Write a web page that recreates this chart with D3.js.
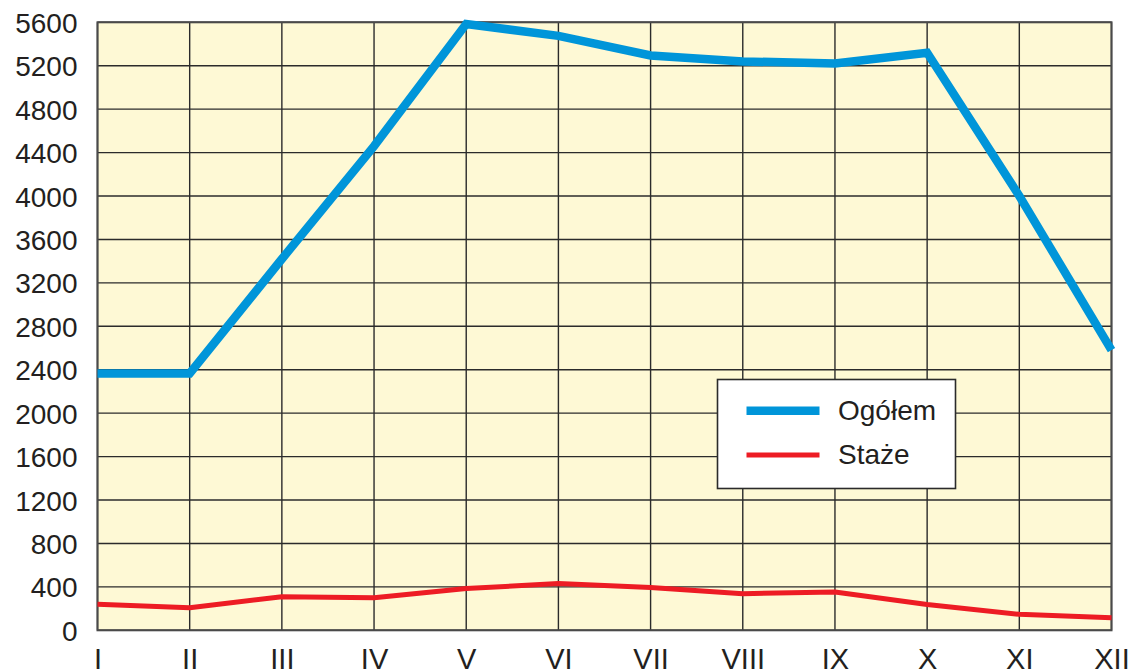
<!DOCTYPE html>
<html>
<head>
<meta charset="utf-8">
<script src="https://cdn.jsdelivr.net/npm/d3@7"></script>
<style>
  body { margin: 0; background: #fff; }
  svg text { font-family: "Liberation Sans", Arial, sans-serif; fill: #231f20; }
</style>
</head>
<body>
<svg width="1136" height="671"></svg>
<script>
// months on the x axis
var months = ["I", "II", "III", "IV", "V", "VI", "VII", "VIII", "IX", "X", "XI", "XII"];
// series
var ogolem = [2365, 2365, 3420, 4460, 5585, 5475, 5295, 5240, 5220, 5320, 4000, 2580];
var staze = [240, 208, 310, 300, 385, 430, 395, 337, 353, 238, 147, 116];
var yTicks = [0, 400, 800, 1200, 1600, 2000, 2400, 2800, 3200, 3600, 4000, 4400, 4800, 5200, 5600];
var seriesNames = ["Ogółem", "Staże"];
var seriesColors = ["#0095d9", "#ed1c24"];

var svg = d3.select("svg");
// plot area edges (note: "top" is a reserved window prop, so use other names)
var pLeft = 97.5, pRight = 1111.5, pTop = 22.3, pBottom = 630.3;

var x = d3.scalePoint().domain(months).range([pLeft, pRight]);
var y = d3.scaleLinear().domain([0, 5600]).range([pBottom, pTop]);

// background of plot
svg.append("rect")
    .attr("x", pLeft).attr("y", pTop)
    .attr("width", pRight - pLeft).attr("height", pBottom - pTop)
    .attr("fill", "#fef9d5");

// grid
var grid = svg.append("g").attr("stroke", "#2b2b2b").attr("stroke-width", 1.4);
grid.selectAll(".h").data(yTicks).enter().append("line")
    .attr("class", "h")
    .attr("x1", pLeft).attr("x2", pRight)
    .attr("y1", function (d) { return y(d); })
    .attr("y2", function (d) { return y(d); });
grid.selectAll(".v").data(months).enter().append("line")
    .attr("class", "v")
    .attr("y1", pTop).attr("y2", pBottom)
    .attr("x1", function (d) { return x(d); })
    .attr("x2", function (d) { return x(d); });

// border
svg.append("rect")
    .attr("x", pLeft).attr("y", pTop)
    .attr("width", pRight - pLeft).attr("height", pBottom - pTop)
    .attr("fill", "none").attr("stroke", "#4a4a4a").attr("stroke-width", 2);

// y axis labels
var yAxis = svg.append("g")
    .attr("transform", "translate(" + (pLeft - 20) + ",0)")
    .call(d3.axisLeft(y).tickValues(yTicks).tickFormat(d3.format("d")).tickSize(0).tickPadding(0));
yAxis.select(".domain").remove();
yAxis.selectAll("text")
    .style("font-size", "28px")
    .style("font-family", "Liberation Sans, Arial, sans-serif")
    .attr("fill", "#231f20")
    .attr("dy", "0.36em");

// x axis labels
var xAxis = svg.append("g")
    .attr("transform", "translate(0," + pBottom + ")")
    .call(d3.axisBottom(x).tickSize(0).tickPadding(0));
xAxis.select(".domain").remove();
xAxis.selectAll("text")
    .style("font-size", "29px")
    .style("font-family", "Liberation Sans, Arial, sans-serif")
    .attr("fill", "#231f20")
    .attr("dy", null)
    .attr("y", 38.5);

// lines
var line = d3.line()
    .x(function (d, i) { return x(months[i]); })
    .y(function (d) { return y(d); });

svg.append("path")
    .datum(ogolem)
    .attr("d", line)
    .attr("fill", "none")
    .attr("stroke", seriesColors[0])
    .attr("stroke-width", 8.5)
    .attr("stroke-linejoin", "miter");

svg.append("path")
    .datum(staze)
    .attr("d", line)
    .attr("fill", "none")
    .attr("stroke", seriesColors[1])
    .attr("stroke-width", 5)
    .attr("stroke-linejoin", "round");

// legend
var legend = svg.append("g");
legend.append("rect")
    .attr("x", 717.5).attr("y", 379.5)
    .attr("width", 238).attr("height", 109)
    .attr("fill", "#fff").attr("stroke", "#2b2b2b").attr("stroke-width", 1.6);

var items = legend.selectAll(".item").data(seriesNames).enter().append("g")
    .attr("class", "item")
    .attr("transform", function (d, i) { return "translate(0," + (410.7 + i * 44.3) + ")"; });
items.append("line")
    .attr("x1", 746.5).attr("x2", 819.5)
    .attr("stroke", function (d, i) { return seriesColors[i]; })
    .attr("stroke-width", function (d, i) { return i === 0 ? 8.5 : 5; });
items.append("text")
    .attr("x", 838)
    .attr("y", 9)
    .style("font-size", "28px")
    .text(function (d) { return d; });
</script>
</body>
</html>
